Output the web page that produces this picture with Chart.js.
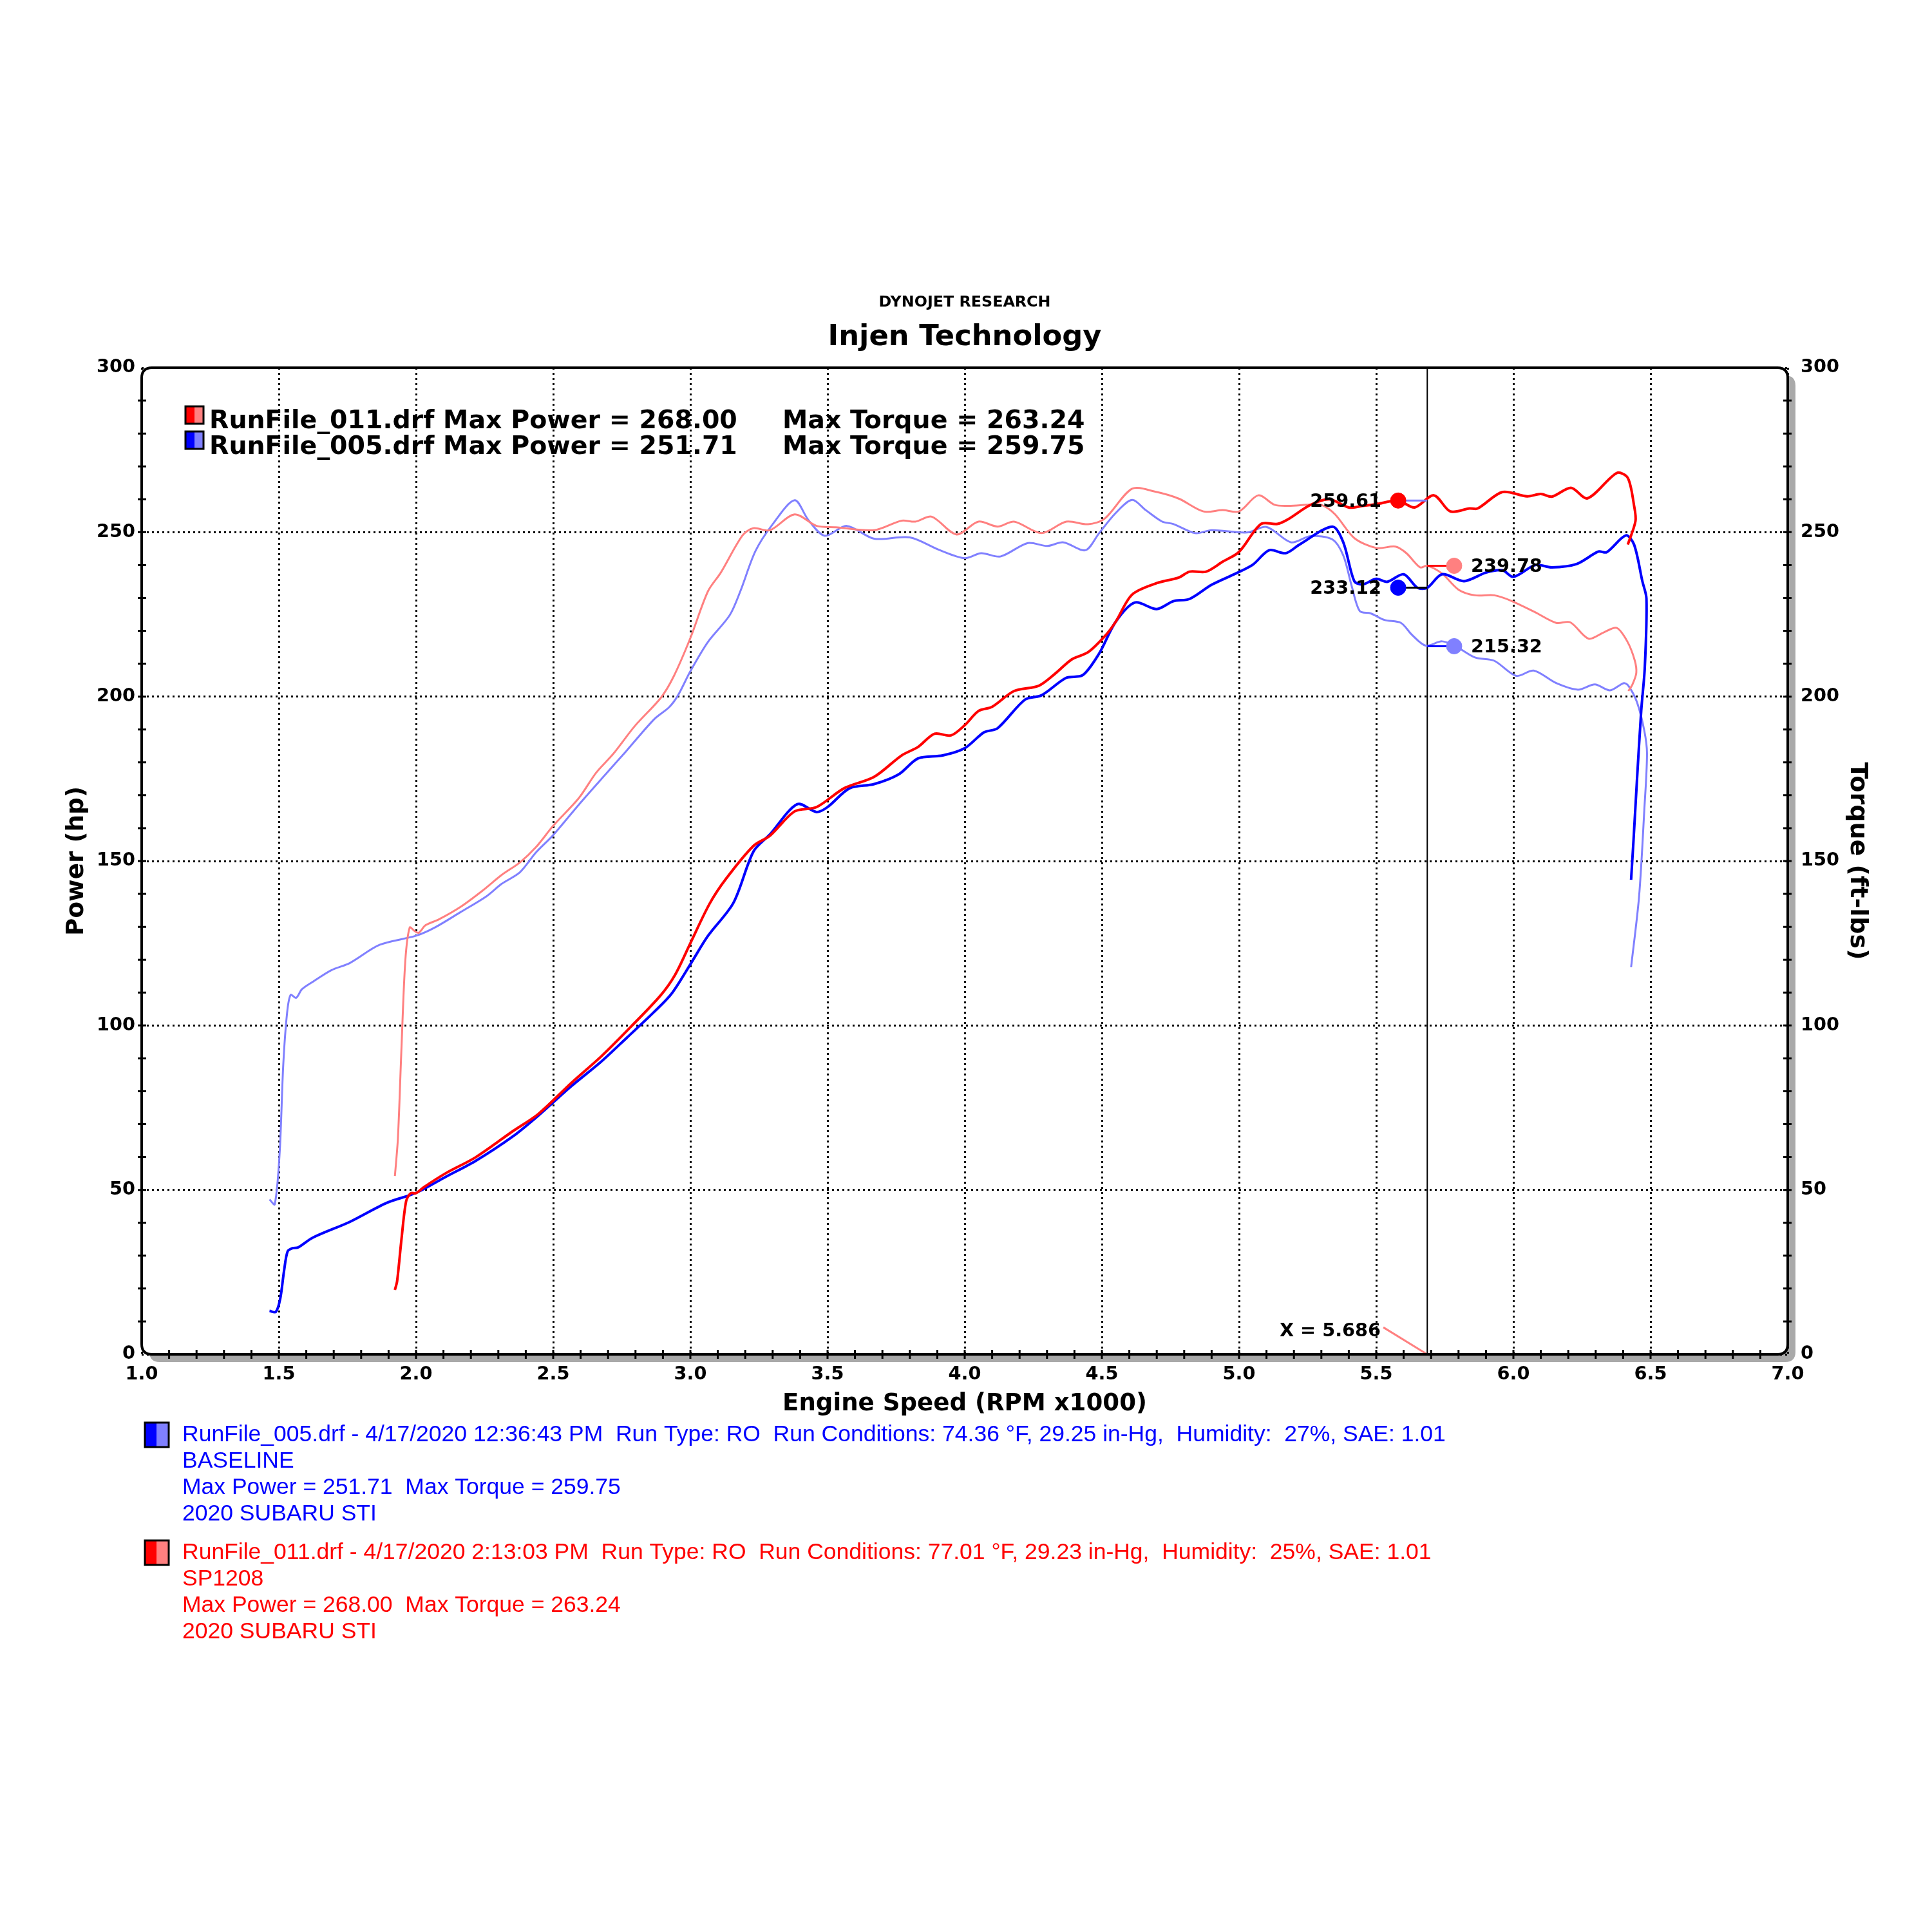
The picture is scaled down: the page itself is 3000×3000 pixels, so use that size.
<!DOCTYPE html>
<html>
<head>
<meta charset="utf-8">
<script src="https://cdn.jsdelivr.net/npm/chart.js@4.4.0/dist/chart.umd.min.js"></script>
<style>
  html, body { margin: 0; padding: 0; background: #fff; }
  canvas { display: block; }
</style>
</head>
<body>
<canvas id="dyno" width="3000" height="3000"></canvas>
<script>
// axis ticks
const rpmTicks = [1.0, 1.5, 2.0, 2.5, 3.0, 3.5, 4.0, 4.5, 5.0, 5.5, 6.0, 6.5, 7.0];
const valTicks = [0, 50, 100, 150, 200, 250, 300];

// RunFile_011 (SP1208) power, hp
const rpm011Pwr = [1.923, 1.931, 1.947, 1.964, 1.981, 2.0, 2.028, 2.109, 2.217, 2.352, 2.446, 2.567, 2.675, 2.783, 2.891, 2.945, 3.0, 3.07, 3.13, 3.23, 3.29, 3.38, 3.46, 3.56, 3.67, 3.77, 3.83, 3.89, 3.95, 4.0, 4.05, 4.1, 4.18, 4.27, 4.33, 4.39, 4.45, 4.51, 4.55, 4.61, 4.7, 4.78, 4.82, 4.88, 4.94, 5.0, 5.08, 5.14, 5.18, 5.26, 5.33, 5.4, 5.45, 5.5, 5.58, 5.64, 5.71, 5.77, 5.84, 5.87, 5.96, 6.05, 6.1, 6.14, 6.21, 6.27, 6.377, 6.417, 6.44, 6.445, 6.417];
const pwr011 = [19.6, 22.2, 35, 46.6, 49, 49, 50.8, 55.1, 59.9, 67.8, 73.1, 82.6, 90.6, 99.6, 109.1, 115.5, 125, 137, 144.6, 154.6, 157.7, 165.1, 166.4, 172.1, 175.6, 182.1, 184.7, 188.7, 188.2, 191.3, 195.6, 196.9, 201.7, 203.3, 207, 211.3, 213.5, 218.3, 222.7, 231, 234.5, 236.2, 238, 238, 241, 244, 252.5, 252.5, 254, 258.3, 260, 257.5, 258, 258.5, 259.6, 257.5, 261.2, 256.3, 257.2, 257.2, 262.2, 260.9, 261.6, 260.8, 263.5, 260.3, 268, 266.5, 258, 253.4, 246.2];

// RunFile_005 (BASELINE) power, hp
const rpm005Pwr = [1.466, 1.489, 1.505, 1.519, 1.532, 1.55, 1.57, 1.624, 1.759, 1.894, 2.0, 2.109, 2.217, 2.352, 2.446, 2.567, 2.675, 2.77, 2.864, 2.931, 3.0, 3.063, 3.157, 3.23, 3.29, 3.39, 3.46, 3.5, 3.58, 3.67, 3.76, 3.83, 3.92, 4.0, 4.07, 4.12, 4.22, 4.28, 4.37, 4.43, 4.49, 4.55, 4.62, 4.7, 4.76, 4.82, 4.9, 4.99, 5.05, 5.11, 5.17, 5.22, 5.34, 5.38, 5.42, 5.45, 5.5, 5.54, 5.6, 5.65, 5.686, 5.74, 5.82, 5.9, 5.96, 6.0, 6.08, 6.14, 6.23, 6.31, 6.34, 6.41, 6.44, 6.47, 6.485, 6.479, 6.466, 6.45, 6.438, 6.429];
const pwr005 = [13.2, 12.9, 16.9, 25.4, 31.3, 32.3, 32.5, 35.5, 40.3, 46.1, 49.1, 54, 58.8, 66.2, 72.6, 81.6, 89, 96.4, 103.8, 109.6, 118.6, 127.1, 137.3, 152.9, 158.1, 167.3, 164.9, 166.4, 172.1, 173.4, 176.4, 181.2, 182.1, 184.3, 189.1, 190.4, 199.1, 200.4, 205.7, 206.5, 213.1, 222.7, 228.6, 226.6, 229, 229.7, 234, 237.5, 240.1, 244.5, 243.6, 246.2, 251.7, 246.9, 235.1, 234.1, 235.8, 234.9, 237.2, 233.1, 233.1, 237.2, 235.1, 237.7, 238.4, 236.4, 240, 239.3, 240.3, 244.1, 243.9, 249, 246.2, 235.1, 229.8, 208.9, 195.8, 174, 156.5, 144.3];

// RunFile_011 torque, ft-lbs
const rpm011Tq = [1.923, 1.934, 1.947, 1.961, 1.977, 1.995, 2.01, 2.035, 2.082, 2.163, 2.244, 2.311, 2.379, 2.437, 2.5, 2.594, 2.657, 2.719, 2.798, 2.892, 2.939, 3.0, 3.064, 3.111, 3.19, 3.229, 3.29, 3.38, 3.46, 3.53, 3.67, 3.77, 3.82, 3.88, 3.97, 4.05, 4.12, 4.18, 4.28, 4.37, 4.45, 4.51, 4.61, 4.69, 4.78, 4.87, 4.94, 5.0, 5.07, 5.13, 5.18, 5.26, 5.3, 5.35, 5.42, 5.5, 5.57, 5.61, 5.66, 5.686, 5.74, 5.8, 5.86, 5.93, 5.99, 6.078, 6.156, 6.207, 6.274, 6.329, 6.376, 6.415, 6.442, 6.448, 6.434, 6.419];
const tq011 = [54.2, 65.7, 93.2, 119.7, 129.8, 128.7, 128.2, 130.5, 132.2, 136.1, 141.1, 145.7, 149.6, 154.2, 160.7, 169.2, 176.9, 182.6, 191.1, 199.6, 206.1, 217.8, 232, 237.7, 249, 251.2, 250.6, 255.4, 251.9, 251.5, 250.6, 253.5, 253.2, 254.7, 249.3, 253.2, 251.7, 253.2, 249.7, 253.2, 252.4, 254.1, 263.2, 262.4, 260.2, 256.3, 256.7, 256.3, 261.2, 258.3, 258, 258.4, 258.3, 255.4, 248.2, 245.2, 245.6, 243.6, 239.3, 239.8, 237.4, 232.5, 230.8, 230.8, 229.2, 225.7, 222.4, 222.6, 217.6, 219.5, 220.9, 216.8, 211.1, 207.2, 203.7, 201.7];

// RunFile_005 torque, ft-lbs
const rpm005Tq = [1.466, 1.485, 1.503, 1.516, 1.53, 1.543, 1.563, 1.584, 1.624, 1.691, 1.759, 1.867, 2.001, 2.069, 2.163, 2.257, 2.311, 2.379, 2.437, 2.5, 2.594, 2.688, 2.766, 2.868, 2.923, 2.955, 3.0, 3.064, 3.143, 3.182, 3.237, 3.299, 3.38, 3.43, 3.49, 3.57, 3.67, 3.8, 3.91, 4.0, 4.06, 4.13, 4.23, 4.3, 4.36, 4.44, 4.49, 4.55, 4.61, 4.66, 4.72, 4.76, 4.84, 4.9, 5.03, 5.1, 5.19, 5.26, 5.34, 5.38, 5.41, 5.44, 5.48, 5.53, 5.59, 5.63, 5.68, 5.74, 5.79, 5.86, 5.93, 6.01, 6.074, 6.156, 6.235, 6.297, 6.352, 6.403, 6.42, 6.45, 6.477, 6.487, 6.477, 6.458, 6.429];
const tq005 = [47.1, 45.6, 61.4, 87.9, 103.8, 109.3, 108.4, 111, 113.3, 116.8, 119, 124.5, 127.3, 129.8, 134.5, 139.3, 143, 146.6, 152.6, 157.9, 167.2, 176.1, 183.4, 193.1, 196.8, 200.4, 207.7, 216.6, 224.7, 232, 244.2, 252.3, 259.7, 253.7, 248.9, 251.9, 248, 248.4, 244.5, 242.1, 243.6, 242.6, 246.7, 245.8, 246.9, 244.5, 249.7, 255.8, 259.8, 256.7, 253.2, 252.5, 249.7, 250.6, 249.9, 251.6, 246.9, 248.8, 247.8, 242.9, 233.8, 226, 225.3, 223.3, 222.4, 218.8, 215.5, 216.8, 215.3, 211.9, 210.9, 206.3, 207.9, 204.1, 202.1, 203.7, 201.9, 204.1, 203.2, 198.4, 189.7, 182.7, 165.3, 139.1, 117.7];

// cursor readout
const cursorRpm = 5.686;
const readRpm = [5.58, 5.58, 5.784, 5.784];
const readVal = [259.61, 233.12, 239.78, 215.32];
const readLabelRpm = 5.526;
const readLabelVal = 8.2;

// run info
const runFile = ['RunFile_005.drf', 'RunFile_011.drf'];
const runDate = ['4/17/2020', '4/17/2020'];
const runTime = ['12:36:43 PM', '2:13:03 PM'];
const runTemp = ['74.36', '77.01'];
const runBaro = ['29.25', '29.23'];
const runHumidity = ['27', '25'];
const runSae = ['1.01', '1.01'];
const runName = ['BASELINE', 'SP1208'];
const maxPower = ['251.71', '268.00'];
const maxTorque = ['259.75', '263.24'];
const runVehicle = ['2020 SUBARU STI', '2020 SUBARU STI'];

const RED = '#ff0000', SALMON = '#ff8080', BLUE = '#0000ff', LBLUE = '#8080ff';
const BOLD = '"DejaVu Sans", Verdana, sans-serif';
const ARIAL = '"Liberation Sans", Arial, sans-serif';

const measureCtx = document.createElement('canvas').getContext('2d');
function fitSize(text, width, weight, family) {
  measureCtx.font = weight + ' 100px ' + family;
  return 100 * width / measureCtx.measureText(text).width;
}
const tickSize = fitSize('300', 60, 'bold', BOLD);

const pts = (xs, ys) => xs.map((x, i) => ({ x: x, y: ys[i] }));
function curve(label, xs, ys, color, width, axis) {
  return {
    label: label, data: pts(xs, ys), yAxisID: axis,
    borderColor: color, backgroundColor: color, borderWidth: width,
    pointRadius: 0, showLine: true, tension: 0.3, fill: false
  };
}
function seg(x0, y0, x1, y1, color, width) {
  return {
    data: [{ x: x0, y: y0 }, { x: x1, y: y1 }], borderColor: color,
    borderWidth: width, pointRadius: 0, showLine: true, tension: 0, fill: false
  };
}

const dotColors = [RED, BLUE, SALMON, LBLUE];
const datasets = [
  {
    data: pts(readRpm, readVal), showLine: false, pointRadius: 12, pointHoverRadius: 12,
    pointBackgroundColor: dotColors, pointBorderColor: dotColors, pointBorderWidth: 1
  },
  seg(readRpm[0], readVal[0], cursorRpm, readVal[0], LBLUE, 3),
  seg(readRpm[1], readVal[1], cursorRpm, readVal[1], '#000', 3),
  seg(cursorRpm, readVal[2], readRpm[2], readVal[2], RED, 3),
  seg(cursorRpm, readVal[3], readRpm[3], readVal[3], BLUE, 3),
  curve('Power 011', rpm011Pwr, pwr011, RED, 4, 'y'),
  curve('Power 005', rpm005Pwr, pwr005, BLUE, 4, 'y'),
  curve('Torque 011', rpm011Tq, tq011, SALMON, 3, 'y1'),
  curve('Torque 005', rpm005Tq, tq005, LBLUE, 3, 'y1'),
  seg(readLabelRpm, readLabelVal, cursorRpm, 0, SALMON, 3),
  seg(cursorRpm, 0, cursorRpm, 300, '#000', 2)
];

function roundRect(ctx, x, y, w, h, r) {
  ctx.beginPath();
  ctx.moveTo(x + r, y);
  ctx.lineTo(x + w - r, y); ctx.quadraticCurveTo(x + w, y, x + w, y + r);
  ctx.lineTo(x + w, y + h - r); ctx.quadraticCurveTo(x + w, y + h, x + w - r, y + h);
  ctx.lineTo(x + r, y + h); ctx.quadraticCurveTo(x, y + h, x, y + h - r);
  ctx.lineTo(x, y + r); ctx.quadraticCurveTo(x, y, x + r, y);
  ctx.closePath();
}
function fitText(ctx, text, x, y, width, weight, family, color, align) {
  ctx.font = weight + ' ' + fitSize(text, width, weight, family).toFixed(2) + 'px ' + family;
  ctx.fillStyle = color;
  ctx.textAlign = align || 'left';
  ctx.textBaseline = 'middle';
  ctx.fillText(text, x, y);
}
function swatch(ctx, x, y, w, h, c1, c2) {
  ctx.fillStyle = c1; ctx.fillRect(x, y, w / 2, h);
  ctx.fillStyle = c2; ctx.fillRect(x + w / 2, y, w / 2, h);
  ctx.strokeStyle = '#000'; ctx.lineWidth = 3;
  ctx.strokeRect(x, y, w, h);
}

const dynoFrame = {
  id: 'dynoFrame',
  beforeDraw(chart) {
    const { ctx, chartArea: a } = chart;
    ctx.save();
    ctx.fillStyle = '#fff';
    ctx.fillRect(0, 0, chart.width, chart.height);
    ctx.fillStyle = '#a9a9a9';
    roundRect(ctx, a.left + 12, a.top + 12, a.right - a.left, a.bottom - a.top, 16);
    ctx.fill();
    ctx.fillStyle = '#fff';
    roundRect(ctx, a.left, a.top, a.right - a.left, a.bottom - a.top, 16);
    ctx.fill();
    ctx.restore();
  },
  afterDraw(chart) {
    const { ctx, chartArea: a } = chart;
    const sx = chart.scales.x, sy = chart.scales.y;
    ctx.save();
    // frame
    ctx.strokeStyle = '#000';
    ctx.lineWidth = 4;
    roundRect(ctx, a.left, a.top, a.right - a.left, a.bottom - a.top, 16);
    ctx.stroke();
    // minor ticks
    ctx.lineWidth = 3;
    ctx.beginPath();
    for (let i = 1; i < 60; i++) {
      const px = sx.getPixelForValue(1 + i / 10);
      ctx.moveTo(px, a.bottom - 7); ctx.lineTo(px, a.bottom + 7);
    }
    for (let v = 10; v < 300; v += 10) {
      const py = sy.getPixelForValue(v);
      ctx.moveTo(a.left - 6, py); ctx.lineTo(a.left + 7, py);
      ctx.moveTo(a.right - 7, py); ctx.lineTo(a.right + 6, py);
    }
    ctx.stroke();

    // titles
    const cx = (a.left + a.right) / 2;
    fitText(ctx, 'DYNOJET RESEARCH', cx, 470, 267, 'bold', BOLD, '#000', 'center');
    fitText(ctx, 'Injen Technology', cx, 524, 425, 'bold', BOLD, '#000', 'center');
    fitText(ctx, 'Engine Speed (RPM x1000)', cx, 2180, 566, 'bold', BOLD, '#000', 'center');
    const cy = (a.top + a.bottom) / 2;
    ctx.save();
    ctx.translate(119, cy); ctx.rotate(-Math.PI / 2);
    fitText(ctx, 'Power (hp)', 0, 0, 232, 'bold', BOLD, '#000', 'center');
    ctx.restore();
    ctx.save();
    ctx.translate(2884, cy); ctx.rotate(Math.PI / 2);
    fitText(ctx, 'Torque (ft-lbs)', 0, 0, 307, 'bold', BOLD, '#000', 'center');
    ctx.restore();

    // in-plot legend
    swatch(ctx, 288, 631, 28, 27, RED, SALMON);
    swatch(ctx, 288, 670, 28, 27, BLUE, LBLUE);
    const l1 = runFile[1] + ' Max Power = ' + maxPower[1];
    const l2 = runFile[0] + ' Max Power = ' + maxPower[0];
    const lsz = fitSize(l1, 820, 'bold', BOLD);
    ctx.font = 'bold ' + lsz.toFixed(2) + 'px ' + BOLD;
    ctx.fillStyle = '#000'; ctx.textAlign = 'left'; ctx.textBaseline = 'middle';
    ctx.fillText(l1, 325, 655);
    ctx.fillText(l2, 325, 695);
    ctx.fillText('Max Torque = ' + maxTorque[1], 1215, 655);
    ctx.fillText('Max Torque = ' + maxTorque[0], 1215, 695);

    // cursor readouts
    ctx.font = 'bold ' + tickSize.toFixed(2) + 'px ' + BOLD;
    for (let i = 0; i < readVal.length; i++) {
      const px = sx.getPixelForValue(readRpm[i]);
      const py = sy.getPixelForValue(readVal[i]);
      const left = readRpm[i] < cursorRpm;
      ctx.textAlign = left ? 'right' : 'left';
      ctx.fillText(readVal[i].toFixed(2), px + (left ? -26 : 26), py + 2);
    }
    ctx.textAlign = 'right';
    ctx.fillText('X = ' + cursorRpm.toFixed(3), sx.getPixelForValue(readLabelRpm) - 4,
      sy.getPixelForValue(readLabelVal) + 6);

    // run notes
    const notes = [0, 1].map(i => [
      runFile[i] + ' - ' + runDate[i] + ' ' + runTime[i] + '  Run Type: RO  Run Conditions: ' +
        runTemp[i] + ' \u00b0F, ' + runBaro[i] + ' in-Hg,  Humidity:  ' + runHumidity[i] + '%, SAE: ' + runSae[i],
      runName[i],
      'Max Power = ' + maxPower[i] + '  Max Torque = ' + maxTorque[i],
      runVehicle[i]
    ]);
    const nsz = fitSize(notes[0][0], 1962, 'normal', ARIAL);
    ctx.font = nsz.toFixed(2) + 'px ' + ARIAL;
    ctx.textAlign = 'left';
    const blocks = [{ y: 2228, c: BLUE, c2: LBLUE }, { y: 2411, c: RED, c2: SALMON }];
    blocks.forEach((b, i) => {
      swatch(ctx, 225, b.y - 19, 37, 38, b.c, b.c2);
      ctx.font = nsz.toFixed(2) + 'px ' + ARIAL;
      ctx.fillStyle = b.c; ctx.textAlign = 'left'; ctx.textBaseline = 'middle';
      notes[i].forEach((t, k) => ctx.fillText(t, 283, b.y + k * 41));
    });
    ctx.restore();
  }
};

const tickFont = { family: BOLD, weight: 'bold', size: tickSize };
new Chart(document.getElementById('dyno'), {
  type: 'scatter',
  data: { datasets: datasets },
  options: {
    responsive: false,
    devicePixelRatio: 1,
    animation: false,
    events: [],
    layout: { padding: { top: 571, left: 0, right: 0, bottom: 0 } },
    plugins: { legend: { display: false }, tooltip: { enabled: false } },
    scales: {
      x: {
        type: 'linear', min: 1, max: 7,
        afterBuildTicks: s => { s.ticks = rpmTicks.map(v => ({ value: v })); },
        afterFit: s => { s.height = 897; },
        ticks: { callback: v => v.toFixed(1), font: tickFont, color: '#000', padding: 14, maxRotation: 0, autoSkip: false },
        grid: { color: '#000', lineWidth: 3, drawTicks: false },
        border: { display: false, dash: [3, 5] }
      },
      y: {
        type: 'linear', position: 'left', min: 0, max: 300,
        afterBuildTicks: s => { s.ticks = valTicks.map(v => ({ value: v })); },
        afterFit: s => { s.width = 220; },
        ticks: { font: tickFont, color: '#000', padding: 10 },
        grid: { color: '#000', lineWidth: 3, drawTicks: false },
        border: { display: false, dash: [3, 5] }
      },
      y1: {
        type: 'linear', position: 'right', min: 0, max: 300,
        afterBuildTicks: s => { s.ticks = valTicks.map(v => ({ value: v })); },
        afterFit: s => { s.width = 224; },
        ticks: { font: tickFont, color: '#000', padding: 20 },
        grid: { display: false, drawOnChartArea: false, drawTicks: false },
        border: { display: false }
      }
    }
  },
  plugins: [dynoFrame]
});
</script>
</body>
</html>
